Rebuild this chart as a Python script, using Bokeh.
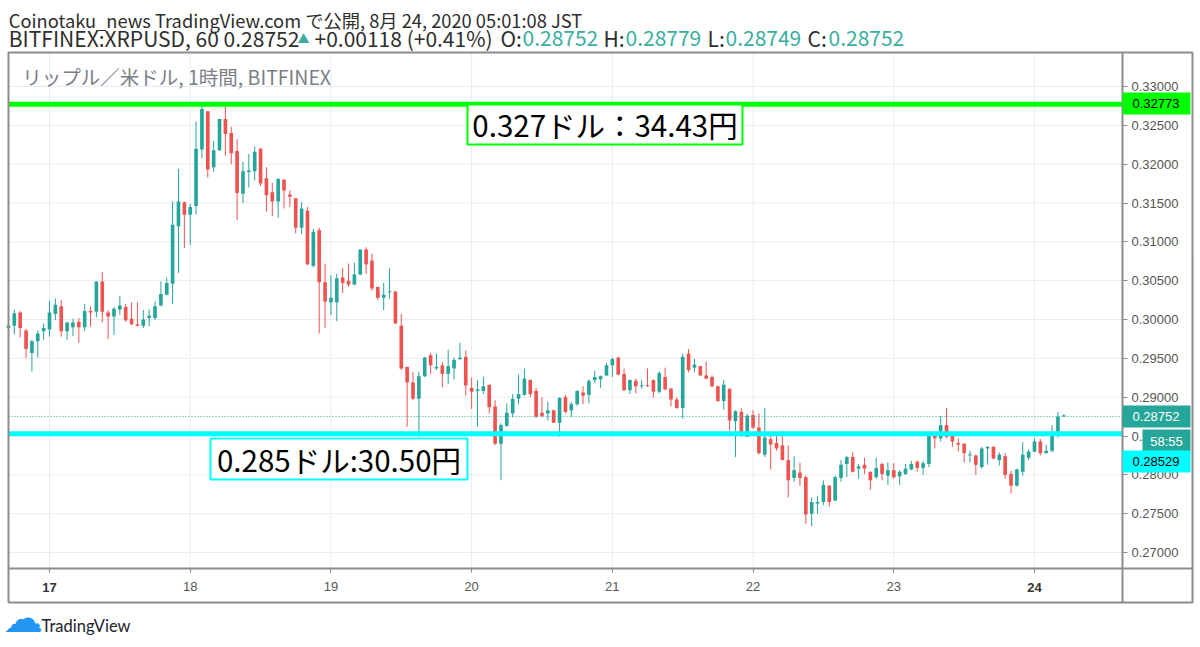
from bokeh.plotting import figure
from bokeh.models import (ColumnDataSource, Range1d, FixedTicker, NumeralTickFormatter,
                          BoxAnnotation, Label)
from bokeh.embed import file_html
from bokeh.resources import INLINE

# ---------------- data ----------------
# hourly candles (JST); first candle Aug 16 17:00, hour offsets from Aug 17 00:00
opens = [
    .2989, .2992, .3009, .2986, .2957, .2972, .2985, .2987, .3007, .3017,
    .2985, .2990, .2997, .2990, .3011, .3010, .3049, .3009, .3004, .3013,
    .3016, .3001, .2994, .2992, .3002, .3002, .3018, .3032, .3046, .3120,
    .3151, .3135, .3146, .3219, .3268, .3196, .3218, .3258, .3240, .3217,
    .3162, .3190, .3191, .3220, .3182, .3164, .3152, .3180, .3161, .3156,
    .3118, .3140, .3069, .3115, .3048, .3022, .3022, .3054, .3050, .3045,
    .3058, .3090, .3076, .3042, .3028, .3035, .3036, .2992, .2939, .2919,
    .2898, .2927, .2954, .2937, .2941, .2930, .2937, .2949, .2952, .2912,
    .2908, .2908, .2916, .2888, .2840, .2863, .2879, .2898, .2903, .2922,
    .2908, .2880, .2879, .2883, .2867, .2900, .2883, .2891, .2906, .2903,
    .2922, .2923, .2928, .2941, .2951, .2930, .2909, .2921, .2914, .2915,
    .2922, .2907, .2926, .2911, .2897, .2886, .2956, .2938, .2940, .2928,
    .2926, .2914, .2895, .2911, .2869, .2881, .2849, .2877, .2861, .2826,
    .2846, .2841, .2838, .2819, .2796, .2803, .2797, .2750, .2763, .2765,
    .2786, .2767, .2796, .2814, .2823, .2808, .2813, .2804, .2797, .2814,
    .2799, .2806, .2798, .2801, .2807, .2817, .2809, .2814, .2851, .2847,
    .2864, .2852, .2841, .2840, .2825, .2825, .2810, .2834, .2836, .2819,
    .2824, .2801, .2786, .2804, .2822, .2830, .2843, .2828, .2831, .2850,
    .28752,
]
highs = [
    .2996, .3013, .3011, .2988, .2974, .2986, .2995, .3024, .3027, .3025,
    .2997, .3001, .3002, .3020, .3017, .3049, .3061, .3012, .3016, .3030,
    .3020, .3022, .3022, .3012, .3013, .3023, .3049, .3054, .3152, .3194,
    .3152, .3149, .3255, .3277, .3268, .3230, .3258, .3277, .3248, .3232,
    .3203, .3213, .3223, .3221, .3196, .3176, .3182, .3181, .3166, .3156,
    .3151, .3145, .3117, .3118, .3072, .3057, .3059, .3066, .3072, .3073,
    .3090, .3093, .3085, .3042, .3047, .3066, .3037, .3007, .2939, .2932,
    .2933, .2952, .2957, .2956, .2945, .2961, .2951, .2970, .2960, .2925,
    .2922, .2926, .2916, .2896, .2866, .2892, .2904, .2929, .2937, .2923,
    .2912, .2900, .2894, .2884, .2900, .2903, .2894, .2909, .2914, .2923,
    .2934, .2928, .2944, .2951, .2952, .2937, .2923, .2924, .2922, .2937,
    .2923, .2933, .2938, .2912, .2900, .2956, .2962, .2949, .2940, .2946,
    .2928, .2915, .2922, .2911, .2883, .2886, .2879, .2883, .2879, .2886,
    .2852, .2855, .2857, .2838, .2824, .2816, .2799, .2771, .2773, .2793,
    .2787, .2799, .2819, .2824, .2829, .2814, .2822, .2804, .2822, .2816,
    .2816, .2815, .2806, .2814, .2818, .2818, .2818, .2856, .2853, .2876,
    .2886, .2854, .2847, .2841, .2831, .2826, .2836, .2837, .2837, .2829,
    .2828, .2805, .2808, .2842, .2833, .2847, .2846, .2839, .2864, .2881,
    .28779,
]
lows = [
    .2986, .2981, .2977, .2950, .2933, .2951, .2974, .2978, .2999, .2978,
    .2974, .2979, .2970, .2985, .2991, .3003, .2996, .2975, .2980, .3006,
    .2997, .2993, .2991, .2989, .2991, .2999, .3017, .3031, .3020, .3060,
    .3092, .3096, .3135, .3208, .3183, .3190, .3217, .3211, .3200, .3128,
    .3150, .3170, .3179, .3172, .3139, .3133, .3131, .3143, .3145, .3111,
    .3110, .3070, .3067, .2982, .2989, .3006, .2998, .3034, .3042, .3044,
    .3057, .3059, .3037, .3025, .3012, .3027, .2994, .2935, .2862, .2896,
    .2849, .2926, .2930, .2935, .2913, .2917, .2923, .2948, .2902, .2885,
    .2862, .2904, .2879, .2838, .2793, .2862, .2874, .2891, .2902, .2900,
    .2873, .2874, .2870, .2867, .2849, .2879, .2875, .2889, .2891, .2892,
    .2918, .2912, .2927, .2926, .2928, .2908, .2904, .2905, .2911, .2913,
    .2899, .2905, .2909, .2888, .2885, .2872, .2932, .2932, .2927, .2923,
    .2913, .2894, .2884, .2857, .2823, .2849, .2849, .2859, .2826, .2823,
    .2807, .2831, .2819, .2771, .2791, .2786, .2737, .2734, .2750, .2761,
    .2759, .2766, .2791, .2797, .2803, .2795, .2801, .2781, .2795, .2793,
    .2787, .2795, .2787, .2800, .2806, .2804, .2800, .2810, .2834, .2843,
    .2847, .2836, .2830, .2816, .2816, .2800, .2808, .2813, .2820, .2812,
    .2795, .2776, .2785, .2799, .2819, .2829, .2825, .2827, .2829, .2848,
    .28749,
]
closes = [
    .2992, .3008, .2989, .2962, .2972, .2982, .2989, .3009, .3019, .2985,
    .2996, .2996, .2990, .3011, .3009, .3049, .3010, .3004, .3014, .3018,
    .2999, .2994, .2992, .3000, .3005, .3017, .3033, .3047, .3122, .3152,
    .3135, .3145, .3220, .3271, .3193, .3218, .3258, .3239, .3214, .3163,
    .3191, .3192, .3216, .3175, .3160, .3152, .3181, .3166, .3158, .3118,
    .3143, .3071, .3113, .3048, .3023, .3028, .3053, .3047, .3045, .3058,
    .3090, .3071, .3040, .3028, .3032, .3036, .2995, .2937, .2919, .2898,
    .2927, .2951, .2941, .2939, .2930, .2940, .2948, .2951, .2915, .2907,
    .2910, .2914, .2887, .2840, .2864, .2880, .2898, .2904, .2924, .2904,
    .2875, .2876, .2883, .2867, .2899, .2881, .2891, .2908, .2902, .2921,
    .2926, .2927, .2941, .2949, .2929, .2909, .2922, .2914, .2915, .2914,
    .2907, .2931, .2910, .2897, .2886, .2952, .2935, .2942, .2928, .2924,
    .2914, .2895, .2916, .2870, .2882, .2851, .2876, .2861, .2828, .2848,
    .2839, .2834, .2819, .2793, .2806, .2796, .2749, .2765, .2765, .2787,
    .2765, .2797, .2813, .2823, .2804, .2811, .2808, .2793, .2809, .2801,
    .2806, .2797, .2804, .2808, .2814, .2809, .2815, .2851, .2847, .2864,
    .2849, .2843, .2839, .2828, .2826, .2813, .2834, .2836, .2821, .2826,
    .2800, .2786, .2807, .2826, .2830, .2843, .2828, .2831, .2850, .2875,
    .28752,
]
first_hour = -7
day_ticks = [0, 24, 48, 72, 96, 120, 144, 168]
day_labels = ["17", "18", "19", "20", "21", "22", "23", "24"]
bold_days = ["17", "24"]
price_ticks = [0.270, 0.275, 0.280, 0.285, 0.290, 0.295, 0.300,
               0.305, 0.310, 0.315, 0.320, 0.325, 0.330]
last_price = 0.28752
resistance = 0.32773
support = 0.28529
resistance_text = "0.327ドル：34.43円"
support_text = "0.285ドル:30.50円"
countdown = "58:55"

# ---------------- styling / geometry ----------------
W, H = 1200, 647
PX_PER_HOUR, X_DAY0 = 5.863, 49.0          # pixel calibration of the time scale
PX_PER_UNIT, Y_REF, P_REF = 7767.0, 86.0, 0.33
BOX_L, BOX_R, BOX_T, BOX_B = 8, 1192, 52, 602
PANE_R, PANE_B = 1122, 568

UP, DOWN = "#26a69a", "#ef5350"
TEAL_TXT = "#3aae9f"
DARK = "#2e2e2e"
FRAME = "#8c8c8c"
GRID = "#e7ecf2"
JP = "Noto Sans CJK JP"
AX = "Liberation Sans"


def hx(px):   # canvas x -> hour
    return (px - X_DAY0) / PX_PER_HOUR


def py(px):   # canvas y -> price
    return P_REF - (px - Y_REF) / PX_PER_UNIT


hours = [first_hour + i for i in range(len(opens))]
tops = [max(o, c) for o, c in zip(opens, closes)]
bots = [min(o, c) for o, c in zip(opens, closes)]
tops = [t if t - b > 0.00013 else b + 0.00013 for t, b in zip(tops, bots)]
colors = [UP if c >= o else DOWN for o, c in zip(opens, closes)]
src = ColumnDataSource(dict(x=hours, o=opens, h=highs, l=lows, c=closes,
                            top=tops, bottom=bots, color=colors))

p = figure(width=W, height=H, x_range=Range1d(hx(0), hx(W)),
           y_range=Range1d(py(H), py(0)), y_axis_location="right",
           toolbar_location=None, output_backend="svg",
           min_border_left=0, min_border_right=0, min_border_top=0,
           min_border_bottom=0)
p.background_fill_color = "white"
p.border_fill_color = "white"
p.outline_line_color = None
p.xgrid.grid_line_color = None
p.ygrid.grid_line_color = None

# axes drawn at the pane edges
p.xaxis.fixed_location = py(PANE_B)
p.xaxis.bounds = (hx(BOX_L), hx(BOX_R))
p.yaxis.fixed_location = hx(PANE_R)
p.yaxis.bounds = (py(BOX_B), py(BOX_T))
p.xaxis.ticker = FixedTicker(ticks=day_ticks)
p.xaxis.major_label_overrides = {t: ("" if lab in bold_days else lab)
                                 for t, lab in zip(day_ticks, day_labels)}
p.yaxis.ticker = FixedTicker(ticks=price_ticks)
p.yaxis.formatter = NumeralTickFormatter(format="0.00000")
for ax in (p.xaxis, p.yaxis):
    ax.axis_line_color = FRAME
    ax.axis_line_width = 2
    ax.minor_tick_line_color = None
    ax.major_tick_line_color = FRAME
    ax.major_tick_in = 0
    ax.major_label_text_font = AX
    ax.major_label_text_font_size = "13px"
    ax.major_label_text_color = "#555555"
p.xaxis.major_tick_out = 4
p.xaxis.major_label_standoff = 9
p.yaxis.major_tick_out = 5
p.yaxis.major_label_standoff = 4

# grid lines inside the price pane
p.segment(x0=day_ticks, x1=day_ticks, y0=py(PANE_B), y1=py(BOX_T),
          line_color=GRID, line_width=1)
p.segment(x0=hx(BOX_L), x1=hx(PANE_R), y0=price_ticks, y1=price_ticks,
          line_color=GRID, line_width=1)

# candles
p.segment(x0="x", y0="l", x1="x", y1="h", line_color="color", line_width=1, source=src)
p.vbar(x="x", width=0.62, top="top", bottom="bottom", fill_color="color",
       line_color=None, source=src)

# horizontal price lines
p.segment(x0=hx(BOX_L), x1=hx(PANE_R), y0=last_price, y1=last_price,
          line_color=UP, line_dash="1 2", line_width=1)
p.segment(x0=hx(BOX_L), x1=hx(PANE_R), y0=resistance, y1=resistance,
          line_color="#00ff00", line_width=5)
p.segment(x0=hx(BOX_L), x1=hx(PANE_R), y0=support, y1=support,
          line_color="#00ffff", line_width=5)


def cbox(l, r, t, b, fill=None, line=None, lw=2):
    p.add_layout(BoxAnnotation(left=l, right=r, top=t, bottom=b,
                               left_units="canvas", right_units="canvas",
                               top_units="canvas", bottom_units="canvas",
                               fill_color=fill if fill else "white",
                               fill_alpha=1.0 if fill else 0.0,
                               line_color=line if line else "white",
                               line_alpha=1.0 if line else 0.0,
                               line_width=lw))


def clabel(x, y, text, size, color, font=JP, align="left", baseline="middle",
           style="normal", xu="canvas"):
    p.add_layout(Label(x=x, y=y, x_units=xu, y_units="canvas", text=text,
                       text_font=font, text_font_size=size, text_color=color,
                       text_align=align, text_baseline=baseline,
                       text_font_style=style))


# outer chart box
cbox(BOX_L, BOX_R, BOX_T, BOX_B, line=FRAME, lw=2)

# annotation boxes
cbox(467, 742, 104, 144, fill="white", line="#00ff00", lw=2)
clabel(604.5, 123.5, resistance_text, "29.5px", "#000000", align="center")
cbox(210, 467, 438, 479, fill="white", line="#00ffff", lw=2)
clabel(338.5, 458.5, support_text, "29.5px", "#000000", align="center")

# price scale tags
cbox(1122, 1190, 92, 114, fill="#00ff00")
clabel(1132, 103, f"{resistance:.5f}", "13px", "#000000", font=AX)
cbox(1122, 1190, 405, 427, fill=UP)
clabel(1132, 416, f"{last_price:.5f}", "13px", "#ffffff", font=AX)
cbox(1142, 1190, 429, 452, fill=UP)
clabel(1166, 440.5, countdown, "13px", "#ffffff", font=AX, align="center")
cbox(1122, 1190, 450, 472, fill="#00ffff")
clabel(1132, 461, f"{support:.5f}", "13px", "#000000", font=AX)

# bold day labels
for t, lab in zip(day_ticks, day_labels):
    if lab in bold_days:
        clabel(t, 587, lab, "13px", "#333333", font=AX, align="center",
               style="bold", xu="data")

# header
clabel(8.3, 19.5, "Coinotaku_news TradingView.com で公開, 8月 24, 2020 05:01:08 JST",
       "18.3px", DARK)
clabel(8.3, 37, "BITFINEX:XRPUSD, 60 0.28752", "21px", DARK)
clabel(297, 38, "▲", "12px", TEAL_TXT)
clabel(314, 37, "+0.00118 (+0.41%)", "21px", DARK)
for x, t, col in [(500, "O:", DARK), (522, "0.28752", TEAL_TXT),
                  (603, "H:", DARK), (625, "0.28779", TEAL_TXT),
                  (707, "L:", DARK), (725, "0.28749", TEAL_TXT),
                  (807, "C:", DARK), (828, "0.28752", TEAL_TXT)]:
    clabel(x, 37, t, "21px", col)

clabel(21.7, 76, "リップル／米ドル, 1時間, BITFINEX", "19.5px", "#7b7e87")

# footer
clabel(22.5, 617.5, "☁", "40px", "#2196f3", font="DejaVu Sans", align="center")
clabel(41, 625.5, "TradingView", "16.5px", "#1e222d", font="Lato")

open("out.html", "w").write(file_html(p, INLINE))
